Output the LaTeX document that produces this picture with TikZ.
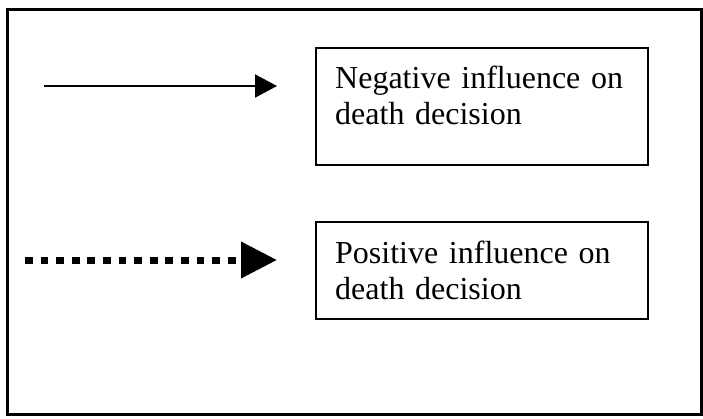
\documentclass[tikz,border=0pt]{standalone}
\usepackage{fontspec}
\setmainfont{Liberation Serif}
\usepackage{tikz}
\usetikzlibrary{positioning, arrows.meta}

\begin{document}
\begin{tikzpicture}[
  x=1pt, y=-1pt,
  legendbox/.style={draw, line width=2.4pt, anchor=north west, align=left,
    inner xsep=19pt, inner ysep=0pt, minimum width=332pt, text width=294pt,
    font=\fontsize{32}{36.5}\selectfont},
  negarrow/.style={-{Triangle[length=22pt, width=23pt]}, line width=2pt},
  posarrow/.style={-{Triangle[length=36pt, width=35pt]}, line width=7pt,
    dash pattern=on 7.7pt off 7.9pt}
]
\useasboundingbox (0,0) rectangle (703,418);
\draw[line width=3pt] (7.5,9) rectangle (701,414);

\node[legendbox, text height=40pt, text depth=77pt] (negbox) at (315,47)
  {Negative influence on\\death decision};
\node[legendbox, text height=41pt, text depth=56pt] (posbox) at (315,221)
  {Positive influence on\\death decision};

% arrow samples, left of each box
\coordinate (negtail) at (44,86);
\coordinate (neghead) at (277,86);
\coordinate (postail) at (25,260);
\coordinate (poshead) at (277,260);

\draw[negarrow] (negtail) -- (neghead);
\draw[posarrow] (postail) -- (poshead);

\end{tikzpicture}
\end{document}
